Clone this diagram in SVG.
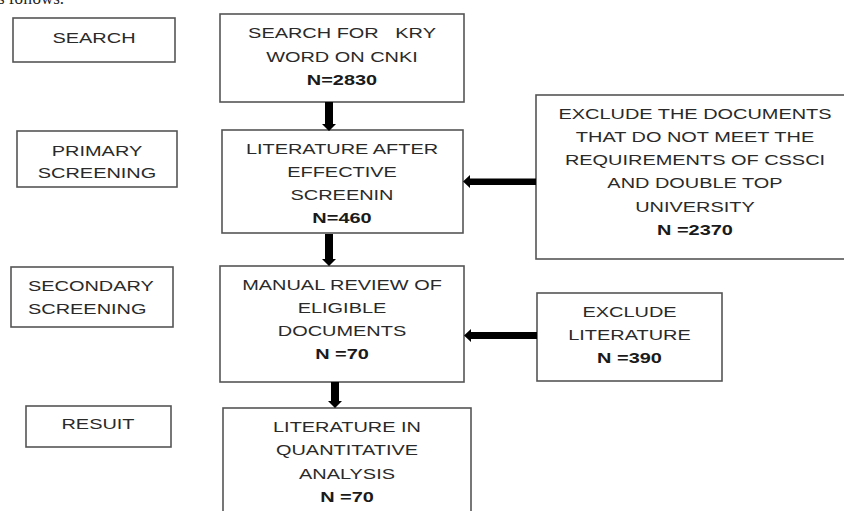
<svg xmlns="http://www.w3.org/2000/svg" width="844" height="511" viewBox="0 0 844 511">
<style>
.box{fill:#fff;stroke:#555;stroke-width:1.6}
.t{font-family:"Liberation Sans",Arial,sans-serif;font-size:15px;fill:#2a2a2a;text-anchor:middle}
.tl{font-family:"Liberation Sans",Arial,sans-serif;font-size:15px;fill:#2a2a2a;text-anchor:start}
.n{font-weight:bold;fill:#1a1a1a}
.arr{fill:#000}
.cap{font-family:"Liberation Serif","Times New Roman",serif;font-size:17px;fill:#222}
</style>
<rect width="844" height="511" fill="#fff"/>
<text class="cap" x="-2" y="4">s follows.</text>

<g id="stage-search">
<rect class="box" x="13" y="18" width="162" height="44"/>
<text class="t" transform="translate(94 0) scale(1.33 1)"><tspan x="0" y="43">SEARCH</tspan></text>
</g>
<g id="stage-primary">
<rect class="box" x="17" y="131" width="160" height="56"/>
<text class="t" transform="translate(97 0) scale(1.33 1)"><tspan x="0" y="156">PRIMARY</tspan><tspan x="0" y="178">SCREENING</tspan></text>
</g>
<g id="stage-secondary">
<rect class="box" x="11" y="267" width="162" height="60"/>
<text class="tl" transform="translate(28 0) scale(1.33 1)"><tspan x="0" y="291">SECONDARY</tspan><tspan x="0" y="314">SCREENING</tspan></text>
</g>
<g id="stage-result">
<rect class="box" x="26" y="406" width="145" height="41"/>
<text class="t" transform="translate(98 0) scale(1.33 1)"><tspan x="0" y="429">RESUIT</tspan></text>
</g>

<g id="search-cnki">
<rect class="box" x="220" y="14" width="244" height="88"/>
<text class="t" transform="translate(342 0) scale(1.33 1)"><tspan x="0" y="38">SEARCH FOR&#160;&#160; KRY</tspan><tspan x="0" y="62">WORD ON CNKI</tspan><tspan class="n" x="0" y="85">N=2830</tspan></text>
</g>
<g id="effective-screening">
<rect class="box" x="222" y="130" width="241" height="103"/>
<text class="t" transform="translate(342 0) scale(1.33 1)"><tspan x="0" y="154">LITERATURE AFTER</tspan><tspan x="0" y="177">EFFECTIVE</tspan><tspan x="0" y="200">SCREENIN</tspan><tspan class="n" x="0" y="223">N=460</tspan></text>
</g>
<g id="manual-review">
<rect class="box" x="220" y="266" width="244" height="116"/>
<text class="t" transform="translate(342 0) scale(1.33 1)"><tspan x="0" y="290">MANUAL REVIEW OF</tspan><tspan x="0" y="313">ELIGIBLE</tspan><tspan x="0" y="336">DOCUMENTS</tspan><tspan class="n" x="0" y="359">N =70</tspan></text>
</g>
<g id="quantitative-analysis">
<rect class="box" x="223" y="408" width="248" height="120"/>
<text class="t" transform="translate(347 0) scale(1.33 1)"><tspan x="0" y="432">LITERATURE IN</tspan><tspan x="0" y="455">QUANTITATIVE</tspan><tspan x="0" y="479">ANALYSIS</tspan><tspan class="n" x="0" y="502">N =70</tspan></text>
</g>

<g id="exclude-cssci">
<rect class="box" x="536" y="95" width="320" height="164"/>
<text class="t" transform="translate(695 0) scale(1.33 1)"><tspan x="0" y="119.5">EXCLUDE THE DOCUMENTS</tspan><tspan x="0" y="142.5">THAT DO NOT MEET THE</tspan><tspan x="0" y="165.5">REQUIREMENTS OF CSSCI</tspan><tspan x="0" y="188.5">AND DOUBLE TOP</tspan><tspan x="0" y="212">UNIVERSITY</tspan><tspan class="n" x="0" y="235">N =2370</tspan></text>
</g>
<g id="exclude-literature">
<rect class="box" x="537" y="293" width="185" height="88"/>
<text class="t" transform="translate(629.5 0) scale(1.33 1)"><tspan x="0" y="317">EXCLUDE</tspan><tspan x="0" y="340">LITERATURE</tspan><tspan class="n" x="0" y="363">N =390</tspan></text>
</g>

<g id="connectors">
<polygon class="arr" points="325,102 333,102 333,124 336,124 329,131 322,124 325,124"/>
<polygon class="arr" points="325,234 333,234 333,259 336,259 329,266 322,259 325,259"/>
<polygon class="arr" points="331,382 339,382 339,401 342,401 335,408 328,401 331,401"/>
<polygon class="arr" points="536,178.5 536,185 470,185 470,188 463,181.5 470,175 470,178.5"/>
<polygon class="arr" points="537,332 537,339 471,339 471,342 464,335.5 471,329 471,332"/>
</g>
</svg>
